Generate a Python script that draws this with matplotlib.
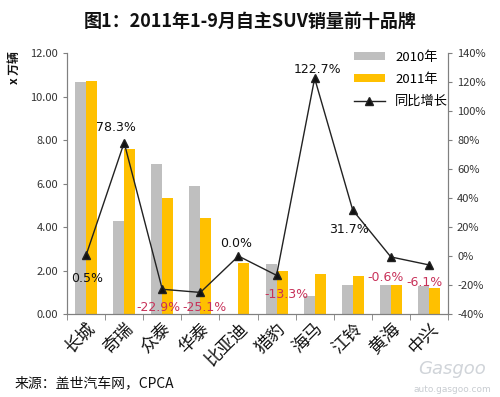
import numpy as np
import matplotlib.pyplot as plt
from matplotlib.ticker import FuncFormatter

plt.rcParams['font.family'] = ['Noto Sans CJK SC', 'DejaVu Sans']

# ── 数据 ──
brands = ["长城", "奇瑞", "众泰", "华泰", "比亚迪", "猎豹", "海马", "江铃", "黄海", "中兴"]
sales_2010 = [10.68, 4.28, 6.90, 5.90, 0.0, 2.30, 0.83, 1.33, 1.33, 1.29]
sales_2011 = [10.74, 7.60, 5.35, 4.43, 2.36, 1.99, 1.85, 1.76, 1.33, 1.21]
growth = [0.5, 78.3, -22.9, -25.1, 0.0, -13.3, 122.7, 31.7, -0.6, -6.1]

# 标签偏移 (points)
label_off = [(1, -17), (-6, 11), (-3, -13), (3, -11), (-2, 9),
             (7, -14), (2, 6), (-3, -14), (-4, -15), (-3, -13)]

C_GRAY = "#BFBFBF"
C_YEL = "#FFC000"
C_NEG = "#C8325A"

fig = plt.figure(figsize=(5.0, 3.97), dpi=100)
ax = fig.add_axes([0.134, 0.209, 0.762, 0.657])

x = np.arange(len(brands))
w = 0.29
ax.bar(x - w / 2, sales_2010, w, color=C_GRAY, label="2010年", zorder=2)
ax.bar(x + w / 2, sales_2011, w, color=C_YEL, label="2011年", zorder=2)

ax.set_xlim(-0.5, len(brands) - 0.5)
ax.set_ylim(0, 12)
ax.set_yticks(np.arange(0, 12.1, 2))
ax.yaxis.set_major_formatter(FuncFormatter(lambda v, p: f"{v:.2f}"))
ax.set_xticks(x)
ax.set_xticklabels(brands, rotation=45, ha="right", rotation_mode="anchor",
                   fontsize=12.5, color="#111111")
ax.set_xticks(np.arange(-0.5, len(brands), 1), minor=True)
ax.tick_params(axis="x", which="major", length=0, pad=4)
ax.tick_params(axis="x", which="minor", length=4, color="#808080")
ax.tick_params(axis="y", length=3, color="#808080", labelsize=8, labelcolor="#333333")

ax2 = ax.twinx()
ax2.plot(x, growth, color="#222222", lw=1, marker="^", ms=6,
         markerfacecolor="#111111", label="同比增长", zorder=5)
ax2.set_ylim(-40, 140)
ax2.set_yticks(np.arange(-40, 141, 20))
ax2.yaxis.set_major_formatter(FuncFormatter(lambda v, p: f"{v:.0f}%"))
ax2.tick_params(axis="y", length=3, color="#808080", labelsize=8, labelcolor="#333333")

for i, g in enumerate(growth):
    col = C_NEG if g < 0 else "#111111"
    ax2.annotate(f"{g:.1f}%", (x[i], g), xytext=label_off[i], textcoords="offset points",
                 ha="center", va="center", fontsize=9, color=col,
                 family=["DejaVu Sans"], zorder=6)

for a in (ax, ax2):
    a.spines["top"].set_visible(False)
    for s in ("left", "right", "bottom"):
        a.spines[s].set_color("#808080")
        a.spines[s].set_linewidth(0.8)

h1, l1 = ax.get_legend_handles_labels()
h2, l2 = ax2.get_legend_handles_labels()
ax2.legend(h1 + h2, l1 + l2, loc="upper left", bbox_to_anchor=(0.74, 1.03),
           frameon=False, fontsize=9.5, handlelength=2.3, handleheight=0.6,
           labelspacing=0.7, borderaxespad=0)

fig.text(0.5, 0.945, "图1：2011年1-9月自主SUV销量前十品牌", ha="center", va="center",
         fontsize=13, fontweight="bold", color="#111111")
fig.text(0.028, 0.87, "x 万辆", rotation=90, ha="center", va="top",
         fontsize=8.5, fontweight="bold", color="#111111")
fig.text(0.03, 0.035, "来源：盖世汽车网，CPCA", ha="left", va="center",
         fontsize=10, color="#111111")
fig.text(0.905, 0.07, "Gasgoo", ha="center", va="center", fontsize=13,
         color="#D0D4D9", family=["DejaVu Sans"], style="italic")
fig.text(0.905, 0.02, "auto.gasgoo.com", ha="center", va="center", fontsize=6.5,
         color="#C8CCD1", family=["DejaVu Sans"])

fig.savefig("out.png", dpi=100)
